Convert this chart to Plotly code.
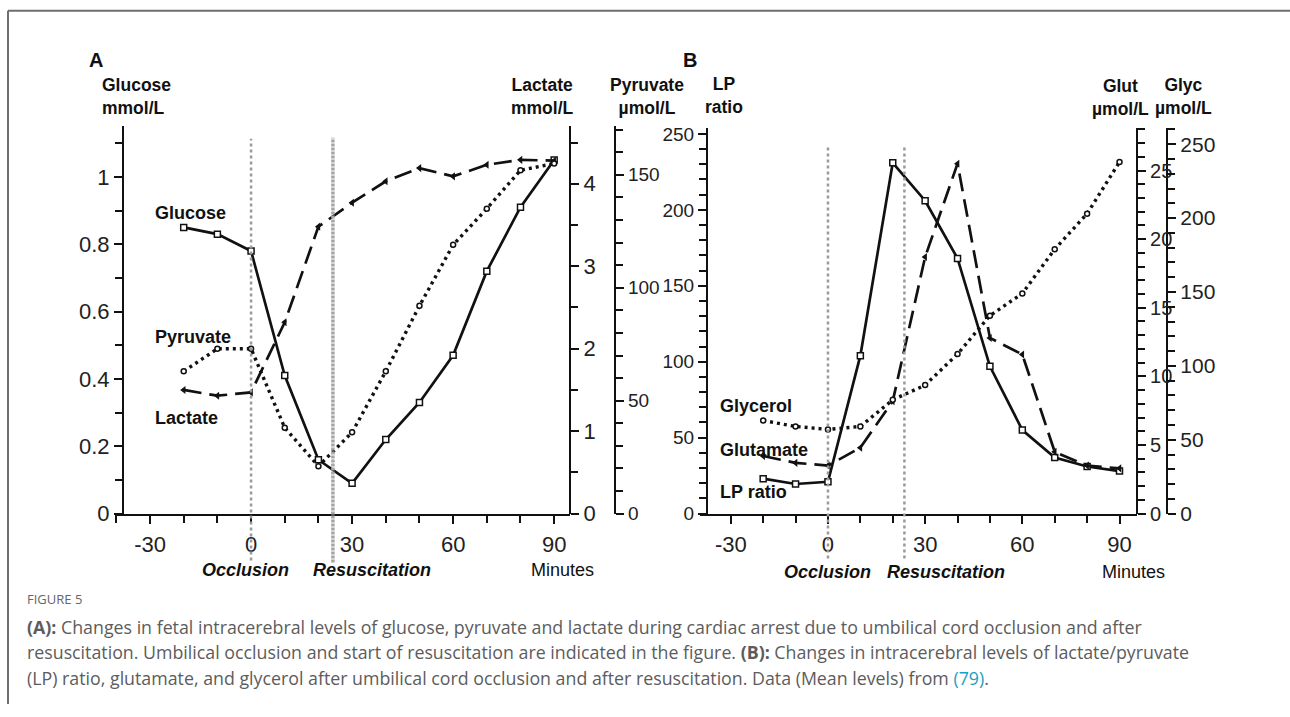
import plotly.graph_objects as go

W, H = 1290, 717

# Sampling times (minutes relative to umbilical cord occlusion)
minutes = [-20, -10, 0, 10, 20, 30, 40, 50, 60, 70, 80, 90]

# Panel A: mean intracerebral levels
glucose = [0.85, 0.83, 0.78, 0.41, 0.16, 0.09, 0.22, 0.33, 0.47, 0.72, 0.91, 1.05]   # mmol/L
lactate = [1.50, 1.43, 1.47, 2.32, 3.48, 3.77, 4.03, 4.19, 4.09, 4.23, 4.29, 4.28]   # mmol/L
pyruvate = [63, 73, 73, 38, 21, 36, 63, 92, 119, 135, 152, 155]                     # umol/L

# Panel B: mean intracerebral levels
lp_ratio = [23, 19.5, 21, 104, 231, 206, 168, 97, 55, 37, 31, 28]
glutamate = [4.2, 3.7, 3.5, 4.8, 8.2, 18.7, 25.5, 12.8, 11.6, 4.5, 3.5, 3.3]        # umol/L
glycerol = [63, 59, 57, 59, 77, 87, 108, 134, 149, 179, 203, 238]                   # umol/L

# Event times (minutes)
occlusion_min = 0
resuscitation_min_a = 24.3
resuscitation_min_b = 23.6

x_ticks = [-30, 0, 30, 60, 90]
x_tick_text = ["-30", "0", "30", "60", "90"]

FONT = "Liberation Sans"
INK = "#111111"


def px(x):
    return x / W


def py(y):
    return 1 - y / H


fig = go.Figure()

solid = dict(color=INK, width=2.7)
dashed = dict(color=INK, width=2.7, dash="18px,8px")
dotted = dict(color=INK, width=3.4, dash="3px,4px")
sq = dict(symbol="square", size=6, color="white", line=dict(color=INK, width=1.5))
circ = dict(symbol="circle", size=5, color="white", line=dict(color=INK, width=1.5))
tri = dict(symbol="triangle-left", size=7, color=INK, line=dict(color=INK, width=0))

# Panel A traces
fig.add_trace(go.Scatter(x=minutes, y=lactate, xaxis="x", yaxis="y2", mode="lines+markers",
                         line=dashed, marker=tri, name="Lactate"))
fig.add_trace(go.Scatter(x=minutes, y=pyruvate, xaxis="x", yaxis="y3", mode="lines+markers",
                         line=dotted, marker=circ, name="Pyruvate"))
fig.add_trace(go.Scatter(x=minutes, y=glucose, xaxis="x", yaxis="y", mode="lines+markers",
                         line=solid, marker=sq, name="Glucose"))

# Panel B traces
fig.add_trace(go.Scatter(x=minutes, y=glycerol, xaxis="x2", yaxis="y6", mode="lines+markers",
                         line=dotted, marker=circ, name="Glycerol"))
fig.add_trace(go.Scatter(x=minutes, y=glutamate, xaxis="x2", yaxis="y5", mode="lines+markers",
                         line=dashed, marker=tri, name="Glutamate"))
fig.add_trace(go.Scatter(x=minutes, y=lp_ratio, xaxis="x2", yaxis="y4", mode="lines+markers",
                         line=solid, marker=sq, name="LP ratio"))


def axis_style(dtick, minor_dtick, fsize=22, **kw):
    d = dict(
        showline=True, linecolor=INK, linewidth=2.2,
        ticks="outside", ticklen=8, tickwidth=2, tickcolor=INK,
        dtick=dtick, tick0=0,
        tickfont=dict(family=FONT, size=fsize, color="#222222"),
        minor=dict(dtick=minor_dtick, tick0=0, ticks="outside", ticklen=7,
                   tickwidth=1.6, tickcolor=INK, showgrid=False),
        showgrid=False, zeroline=False, fixedrange=True,
    )
    d.update(kw)
    return d


dom_a = [py(522), py(125)]
dom_b = [py(522), py(127)]

fig.update_layout(
    width=W, height=H,
    margin=dict(l=0, r=0, t=0, b=0),
    paper_bgcolor="white", plot_bgcolor="rgba(0,0,0,0)",
    showlegend=False,
    font=dict(family=FONT, color=INK),
    xaxis=axis_style(None, 10, domain=[px(115), px(570)], range=[-40.4, 94.7], anchor="y",
                     tickvals=x_ticks, ticktext=x_tick_text, tickmode="array",
                     ticklabelstandoff=2),
    yaxis=axis_style(0.2, 0.1, domain=dom_a, range=[0, 1.151], anchor="free", position=px(123),
                     side="left", tickvals=[0, 0.2, 0.4, 0.6, 0.8, 1.0],
                     ticktext=["0", "0.2", "0.4", "0.6", "0.8", "1"], tickmode="array"),
    yaxis2=axis_style(1, 0.5, range=[0, 4.70], overlaying="y", anchor="free",
                      position=px(570), side="right"),
    yaxis3=axis_style(50, 10, fsize=19, range=[0, 171.6], overlaying="y", anchor="free",
                      position=px(615), side="right", ticklabelstandoff=0),
    xaxis2=axis_style(None, 10, domain=[px(700), px(1137)], range=[-39.5, 95.4], anchor="y4",
                      tickvals=x_ticks, ticktext=x_tick_text, tickmode="array",
                      ticklabelstandoff=2),
    yaxis4=axis_style(50, 10, fsize=19, domain=dom_b, range=[0, 253.9], anchor="free",
                      position=px(707), side="left", ticklabelstandoff=0),
    yaxis5=axis_style(5, 1, fsize=20, range=[0, 28.1], overlaying="y4", anchor="free",
                      position=px(1137), side="right"),
    yaxis6=axis_style(50, 10, fsize=21, range=[0, 261], overlaying="y4", anchor="free",
                      position=px(1167), side="right"),
)

# Occlusion / resuscitation markers
shapes = [
    dict(type="line", xref="x", yref="paper", x0=occlusion_min, x1=occlusion_min,
         y0=py(570), y1=py(138), line=dict(color="#9a9a9a", width=2.5, dash="3px,3px")),
    dict(type="line", xref="x", yref="paper", x0=resuscitation_min_a, x1=resuscitation_min_a,
         y0=py(572), y1=py(137), line=dict(color="#a6a6a6", width=3.5, dash="3px,1px")),
    dict(type="line", xref="x2", yref="paper", x0=occlusion_min, x1=occlusion_min,
         y0=py(568), y1=py(147), line=dict(color="#9a9a9a", width=2.5, dash="3px,3px")),
    dict(type="line", xref="x2", yref="paper", x0=resuscitation_min_b, x1=resuscitation_min_b,
         y0=py(568), y1=py(147), line=dict(color="#9a9a9a", width=2.5, dash="3px,3px")),
    # figure frame
    dict(type="line", xref="paper", yref="paper", x0=px(8), x1=1, y0=py(7), y1=py(7),
         line=dict(color="#6e6e6e", width=2)),
    dict(type="line", xref="paper", yref="paper", x0=px(8), x1=px(8), y0=py(7), y1=0,
         line=dict(color="#6e6e6e", width=2)),
]
fig.update_layout(shapes=shapes)

ann = []


def text(x, y, s, size=18, bold=True, italic=False, xanchor="left", align="left",
         color=INK, family=FONT):
    t = s
    if bold:
        t = "<b>" + t + "</b>"
    if italic:
        t = "<i>" + t + "</i>"
    ann.append(dict(x=px(x), y=py(y), xref="paper", yref="paper", text=t, showarrow=False,
                    xanchor=xanchor, yanchor="middle", align=align,
                    font=dict(family=family, size=size, color=color)))


# Panel A labels
text(87, 57, "A", size=20)
text(100, 95, "Glucose<br>mmol/L", size=17.5)
text(542, 95, "Lactate<br>mmol/L", size=17.5, xanchor="center", align="center")
text(647, 95, "Pyruvate<br>µmol/L", size=17.5, xanchor="center", align="center")
text(153, 214, "Glucose")
text(153, 341, "Pyruvate")
text(153, 424, "Lactate")
text(245, 580, "Occlusion", italic=True, xanchor="center")
text(372, 580, "Resuscitation", italic=True, xanchor="center")
text(562, 580, "Minutes", bold=False, xanchor="center")

# Panel B labels
text(681, 57, "B", size=20)
text(724, 94, "LP<br>ratio", size=17.5, xanchor="center", align="center")
text(1120, 96, "Glut<br>µmol/L", size=17.5, xanchor="center", align="center")
text(1183, 95, "Glyc<br>µmol/L", size=17.5, xanchor="center", align="center")
text(718, 412, "Glycerol")
text(718, 457, "Glutamate")
text(718, 500, "LP ratio")
text(827, 582, "Occlusion", italic=True, xanchor="center")
text(946, 582, "Resuscitation", italic=True, xanchor="center")
text(1133, 582, "Minutes", bold=False, xanchor="center")

# Caption
CAP = "Open Sans"
CAP_COLOR = "#5c5c5c"
text(25, 609, "FIGURE 5", size=13, bold=False, family=CAP, color="#666666")
text(25, 638, "<b>(A):</b> Changes in fetal intracerebral levels of glucose, pyruvate and lactate "
     "during cardiac arrest due to umbilical cord occlusion and after",
     size=17.8, bold=False, family=CAP, color=CAP_COLOR)
text(25, 664, "resuscitation. Umbilical occlusion and start of resuscitation are indicated in "
     "the figure. <b>(B):</b> Changes in intracerebral levels of lactate/pyruvate",
     size=17.8, bold=False, family=CAP, color=CAP_COLOR)
text(25, 690, "(LP) ratio, glutamate, and glycerol after umbilical cord occlusion and after "
     "resuscitation. Data (Mean levels) from <span style='color:#1a9fc0'>(79)</span>.",
     size=17.8, bold=False, family=CAP, color=CAP_COLOR)

fig.update_layout(annotations=ann)

fig.write_html("out.html")
